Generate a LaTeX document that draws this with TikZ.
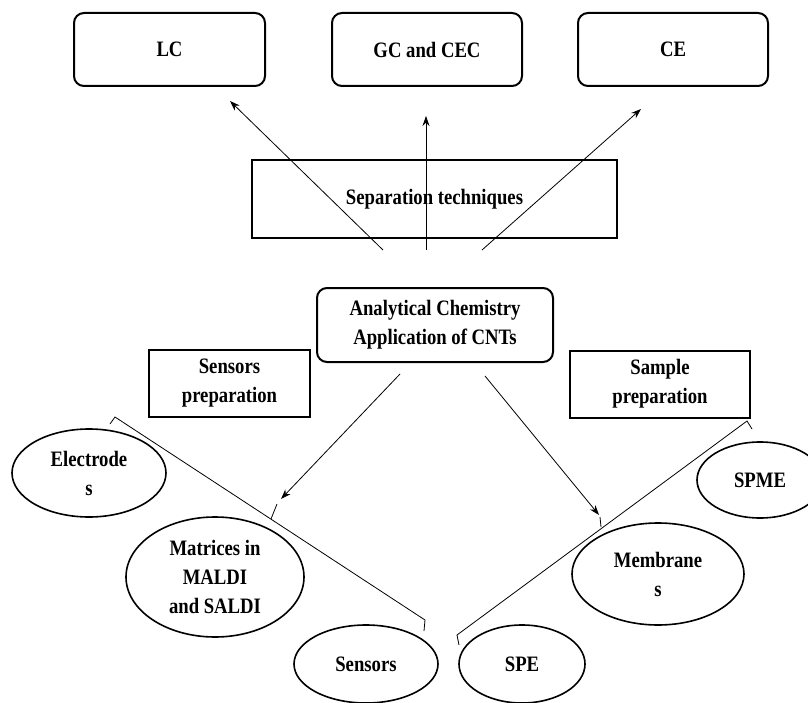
\documentclass[tikz,border=0pt]{standalone}
\usepackage{fontspec}
\setmainfont{Liberation Serif}[FakeStretch=0.85]
\usetikzlibrary{arrows.meta,shapes.geometric}
\begin{document}
\begin{tikzpicture}[x=1pt,y=-1pt,
  lbl/.style={font=\fontsize{22}{29}\selectfont\bfseries, align=center, inner sep=0pt},
  rbox/.style={lbl, draw, line width=2pt, rounded corners=10pt},
  sbox/.style={lbl, draw, line width=2pt},
  oval/.style={lbl, draw, ellipse, line width=1.6pt},
  link/.style={line width=0.8pt},
  arr/.style={link, -{Stealth[length=10pt,width=7pt]}}]
\useasboundingbox (0,0) rectangle (808,703);
% top boxes
\node[rbox, minimum width=191pt, minimum height=73pt] (lc) at (169.5,49.5) {LC};
\node[rbox, minimum width=190pt, minimum height=73pt] (gc) at (427,49.5) {GC and CEC};
\node[rbox, minimum width=190pt, minimum height=73pt] (ce) at (673,49.5) {CE};
\node[sbox, minimum width=365pt, minimum height=78pt] (sep) at (434.5,199) {Separation techniques};
% arrows to top boxes
\coordinate (s1) at (383,250); \coordinate (t1) at (230,101);
\coordinate (s2) at (426,250); \coordinate (t2) at (426,116);
\coordinate (s3) at (482,250); \coordinate (t3) at (641,109);
\draw[arr] (s1) -- (t1);
\draw[arr] (s2) -- (t2);
\draw[arr] (s3) -- (t3);
% centre
\node[rbox, minimum width=236pt, minimum height=74pt] (ac) at (435,325) {Analytical Chemistry\\Application of CNTs};
\node[sbox, minimum width=161pt, minimum height=67pt] (sp) at (229.5,383.5) {Sensors\\preparation};
\node[sbox, minimum width=180pt, minimum height=67pt] (smp) at (660,384) {Sample\\preparation};
% ovals
\node[oval, minimum width=154pt, minimum height=88pt] (el) at (89,473) {Electrode\\s};
\node[oval, minimum width=178pt, minimum height=120pt] (ma) at (215,577) {Matrices in\\MALDI\\and SALDI};
\node[oval, minimum width=144pt, minimum height=78pt] (se) at (366,664) {Sensors};
\node[oval, minimum width=126pt, minimum height=78pt] (spe) at (522,664) {SPE};
\node[oval, minimum width=172pt, minimum height=102pt] (me) at (658,574) {Membrane\\s};
\node[oval, minimum width=126pt, minimum height=76pt] (spme) at (760,480) {SPME};
% brackets
\coordinate (lb0) at (110,424); \coordinate (lb1) at (115,417);
\coordinate (lb2) at (425,620); \coordinate (lb3) at (424,631);
\draw[link] (lb0) -- (lb1) -- (lb2) -- (lb3);
\coordinate (lm0) at (271,519); \coordinate (lm1) at (277,504);
\draw[link] (lm0) -- (lm1);
\coordinate (rb0) at (752,429); \coordinate (rb1) at (747,421);
\coordinate (rb2) at (457,635); \coordinate (rb3) at (459,645);
\draw[link] (rb0) -- (rb1) -- (rb2) -- (rb3);
\coordinate (rm0) at (601,527); \coordinate (rm1) at (600,517);
\draw[link] (rm0) -- (rm1);
% arrows from centre
\coordinate (a1) at (400,374); \coordinate (b1) at (281,499);
\coordinate (a2) at (485,376); \coordinate (b2) at (599,515);
\draw[arr] (a1) -- (b1);
\draw[arr] (a2) -- (b2);
\end{tikzpicture}
\end{document}
